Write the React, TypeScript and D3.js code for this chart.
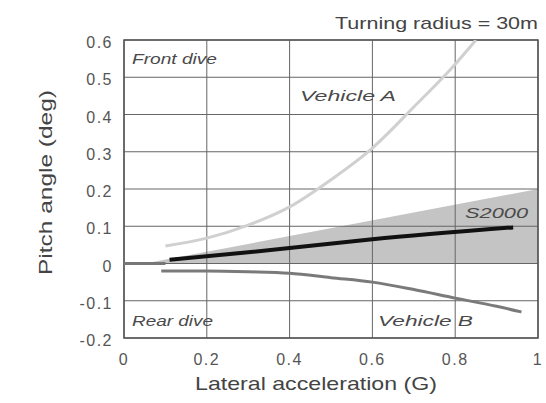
import React from 'react'
import * as d3 from 'd3'

const xTicks = [0, 0.2, 0.4, 0.6, 0.8, 1]
const yTicks = [-0.2, -0.1, 0, 0.1, 0.2, 0.3, 0.4, 0.5, 0.6]

const vehicleA: [number, number][] = [
  [0.1, 0.047], [0.2, 0.068], [0.3, 0.103], [0.4, 0.152], [0.5, 0.225],
  [0.6, 0.31], [0.7, 0.42], [0.8, 0.535], [0.85, 0.6],
]
const vehicleB: [number, number][] = [
  [0.09, -0.02], [0.2, -0.02], [0.3, -0.022], [0.4, -0.026], [0.5, -0.038],
  [0.6, -0.05], [0.7, -0.07], [0.8, -0.093], [0.9, -0.115], [0.96, -0.13],
]
const s2000: [number, number][] = [[0.11, 0.01], [0.3, 0.03], [0.6, 0.065], [0.94, 0.097]]
const bandTop: [number, number][] = [[0.05, 0], [1, 0.2]]
const zeroLead: [number, number][] = [[0, 0], [0.1, 0]]

const W = 546
const H = 403
const m = { left: 124, top: 40, right: 8, bottom: 65 }

// plain hyphen for negatives, like the original
const fmt = (t: number) => (t === 0 || t === 1 ? String(t) : t.toFixed(1))

const App: React.FC = () => {
  const x = d3.scaleLinear().domain([0, 1]).range([m.left, W - m.right])
  const y = d3.scaleLinear().domain([-0.2, 0.6]).range([H - m.bottom, m.top])
  const line = d3.line<[number, number]>().x(d => x(d[0])).y(d => y(d[1])).curve(d3.curveMonotoneX)
  const area = d3.area<[number, number]>().x(d => x(d[0])).y0(y(0)).y1(d => y(d[1]))
  const font = 'Liberation Sans, Arial, sans-serif'
  const tickColor = '#555'
  const label = (txt: string, lx: number, ly: number, len: number, size = 15) => (
    <text x={lx} y={ly} fontSize={size} fontStyle="italic" fill="#4a4a4a" textLength={len} lengthAdjust="spacingAndGlyphs">
      {txt}
    </text>
  )

  return (
    <svg width={W} height={H} style={{ position: 'absolute', left: 0, top: 0 }} fontFamily={font}>
      <rect width={W} height={H} fill="#fff" />
      <defs>
        <clipPath id="plot">
          <rect x={x(0)} y={y(0.6)} width={x(1) - x(0)} height={y(-0.2) - y(0.6)} />
        </clipPath>
      </defs>
      <path d={area(bandTop) ?? ''} fill="#c4c4c4" />
      {xTicks.map(t => (
        <line key={'gx' + t} x1={x(t)} x2={x(t)} y1={y(0.6)} y2={y(-0.2)} stroke="#666" strokeWidth={1} />
      ))}
      {yTicks.map(t => (
        <line key={'gy' + t} x1={x(0)} x2={x(1)} y1={y(t)} y2={y(t)} stroke="#666" strokeWidth={1} />
      ))}
      <rect x={x(0)} y={y(0.6)} width={x(1) - x(0)} height={y(-0.2) - y(0.6)} fill="none" stroke="#555" strokeWidth={1.5} />
      <g clipPath="url(#plot)">
        <path d={line(zeroLead) ?? ''} fill="none" stroke="#777" strokeWidth={3} />
        <path d={line(vehicleA) ?? ''} fill="none" stroke="#d0d0d0" strokeWidth={3} />
        <path d={line(vehicleB) ?? ''} fill="none" stroke="#7a7a7a" strokeWidth={3} />
        <path d={line(s2000) ?? ''} fill="none" stroke="#111" strokeWidth={4} />
      </g>
      {yTicks.map(t => (
        <text key={'ty' + t} x={x(0) - 11} y={y(t) + 8} textAnchor="end" fontSize={16} letterSpacing={1.5} fill={tickColor}>
          {fmt(t)}
        </text>
      ))}
      {xTicks.map(t => (
        <text key={'tx' + t} x={x(t)} y={y(-0.2) + 27} textAnchor="middle" fontSize={16} letterSpacing={1.5} fill={tickColor}>
          {fmt(t)}
        </text>
      ))}
      <text x={335} y={29} fontSize={17} fill="#444" textLength={203} lengthAdjust="spacingAndGlyphs">
        Turning radius = 30m
      </text>
      <text x={195} y={390} fontSize={19} fill="#444" textLength={242} lengthAdjust="spacingAndGlyphs">
        Lateral acceleration (G)
      </text>
      <text transform="translate(52,275) rotate(-90)" fontSize={19} fill="#444" textLength={185} lengthAdjust="spacingAndGlyphs">
        Pitch angle (deg)
      </text>
      {label('Front dive', 132, 64, 85)}
      {label('Rear dive', 132, 326, 81)}
      {label('Vehicle  A', 300, 101, 96)}
      {label('Vehicle  B', 378, 326, 95)}
      {label('S2000', 465, 218, 63)}
    </svg>
  )
}

export default App
